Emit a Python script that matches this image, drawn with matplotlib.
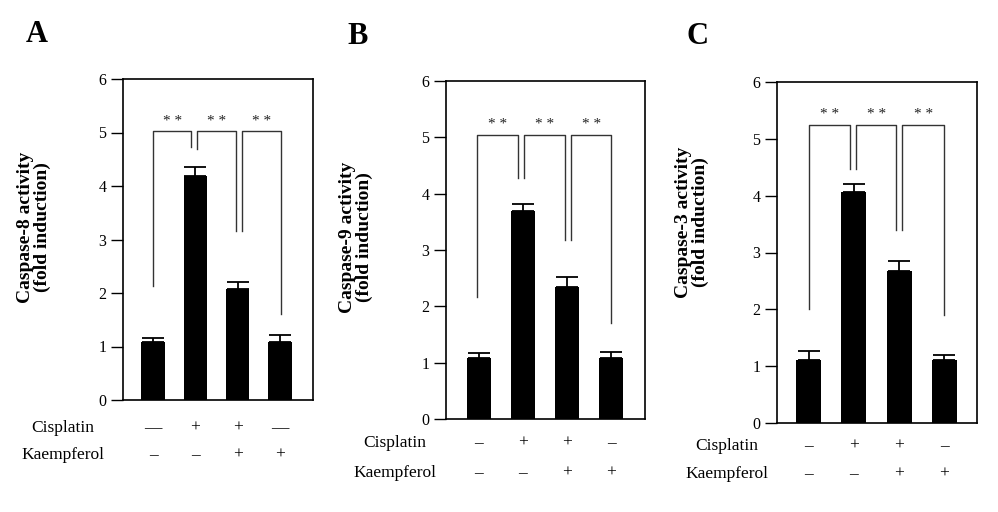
import matplotlib
matplotlib.use("Agg")
import matplotlib.pyplot as plt
import matplotlib.transforms as mtransforms

plt.rcParams["font.family"] = ["Liberation Serif", "DejaVu Serif"]

W, H = 998, 512

panel_letters = ["A", "B", "C"]
ylabels = ["Caspase-8 activity\n(fold induction)",
           "Caspase-9 activity\n(fold induction)",
           "Caspase-3 activity\n(fold induction)"]

# bar means and upper error per panel
means_a = [1.08, 4.18, 2.08, 1.08]
errs_a = [0.07, 0.18, 0.12, 0.14]
means_b = [1.08, 3.69, 2.34, 1.08]
errs_b = [0.09, 0.12, 0.18, 0.11]
means_c = [1.11, 4.07, 2.68, 1.11]
errs_c = [0.15, 0.13, 0.17, 0.09]

cisplatin_a = ["—", "+", "+", "—"]
kaempferol_a = ["–", "–", "+", "+"]
cisplatin_b = ["–", "+", "+", "–"]
kaempferol_b = ["–", "–", "+", "+"]
cisplatin_c = ["–", "+", "+", "–"]
kaempferol_c = ["–", "–", "+", "+"]

# significance brackets: (x_left, x_right, top, drop_left, drop_right)
brackets_a = [(0.0, 0.9, 5.02, 2.13, 4.72), (1.05, 1.95, 5.02, 4.70, 3.15),
              (2.1, 3.02, 5.02, 3.15, 1.6)]
brackets_b = [(-0.03, 0.89, 5.05, 2.16, 4.27), (1.03, 1.96, 5.05, 4.28, 3.17),
              (2.1, 3.01, 5.05, 3.17, 1.7)]
brackets_c = [(0.01, 0.91, 5.25, 2.0, 4.47), (1.05, 1.93, 5.25, 4.47, 3.4),
              (2.07, 3.0, 5.25, 3.4, 1.9)]

panels = [
    dict(means=means_a, errs=errs_a, cis=cisplatin_a, kae=kaempferol_a, br=brackets_a,
         box=(123, 313, 79, 400), letter_xy=(37, 35), ylab_xy=(34, 227),
         row_y=(428, 455), row_lab_x=63, xlim=(-0.71, 3.78)),
    dict(means=means_b, errs=errs_b, cis=cisplatin_b, kae=kaempferol_b, br=brackets_b,
         box=(446, 645, 81, 419), letter_xy=(358, 37), ylab_xy=(356, 237),
         row_y=(443, 473), row_lab_x=395, xlim=(-0.74, 3.77)),
    dict(means=means_c, errs=errs_c, cis=cisplatin_c, kae=kaempferol_c, br=brackets_c,
         box=(777, 977, 82, 423), letter_xy=(697, 36), ylab_xy=(692, 222),
         row_y=(446, 474), row_lab_x=727, xlim=(-0.70, 3.72)),
]

fig = plt.figure(figsize=(W / 100, H / 100), dpi=100)

for i, p in enumerate(panels):
    x0, x1, ytop, ybot = p["box"]
    ax = fig.add_axes([x0 / W, 1 - ybot / H, (x1 - x0) / W, (ybot - ytop) / H])
    xs = list(range(len(p["means"])))
    ax.bar(xs, p["means"], width=0.55, color="black", zorder=2)
    ax.errorbar(xs, p["means"], yerr=[[0] * len(xs), p["errs"]], fmt="none",
                ecolor="black", elinewidth=1.3, capsize=8, capthick=1.3, zorder=1)

    for xl, xr, top, dl, dr in p["br"]:
        ax.plot([xl, xl, xr, xr], [dl, top, top, dr], color="#333333", lw=1.0)
        ax.text((xl + xr) / 2, top + 0.07, "* *", ha="center", va="bottom",
                fontsize=11, color="#222222")

    ax.set_xlim(*p["xlim"])
    ax.set_ylim(0, 6)
    ax.set_xticks([])
    ax.set_yticks(range(7))
    ax.tick_params(axis="y", direction="out", length=9, width=1, labelsize=11.5, pad=3)
    for s in ax.spines.values():
        s.set_linewidth(1.2)

    tr = mtransforms.blended_transform_factory(ax.transData, fig.transFigure)
    for row, ypx in zip([p["cis"], p["kae"]], p["row_y"]):
        for x, s in zip(xs, row):
            ax.text(x, 1 - ypx / H, s, transform=tr, ha="center", va="center", fontsize=12.5)
    fig.text(p["row_lab_x"] / W, 1 - p["row_y"][0] / H, "Cisplatin",
             ha="center", va="center", fontsize=12.5)
    fig.text(p["row_lab_x"] / W, 1 - p["row_y"][1] / H, "Kaempferol",
             ha="center", va="center", fontsize=12.5)

    yx, yy = p["ylab_xy"]
    fig.text(yx / W, 1 - yy / H, ylabels[i],
             rotation=90, ha="center", va="center", fontsize=14,
             fontweight="bold", linespacing=1.0)
    lx, ly = p["letter_xy"]
    fig.text(lx / W, 1 - ly / H, panel_letters[i], ha="center", va="center",
             fontsize=22, fontweight="bold")

fig.savefig("out.png", dpi=100)
